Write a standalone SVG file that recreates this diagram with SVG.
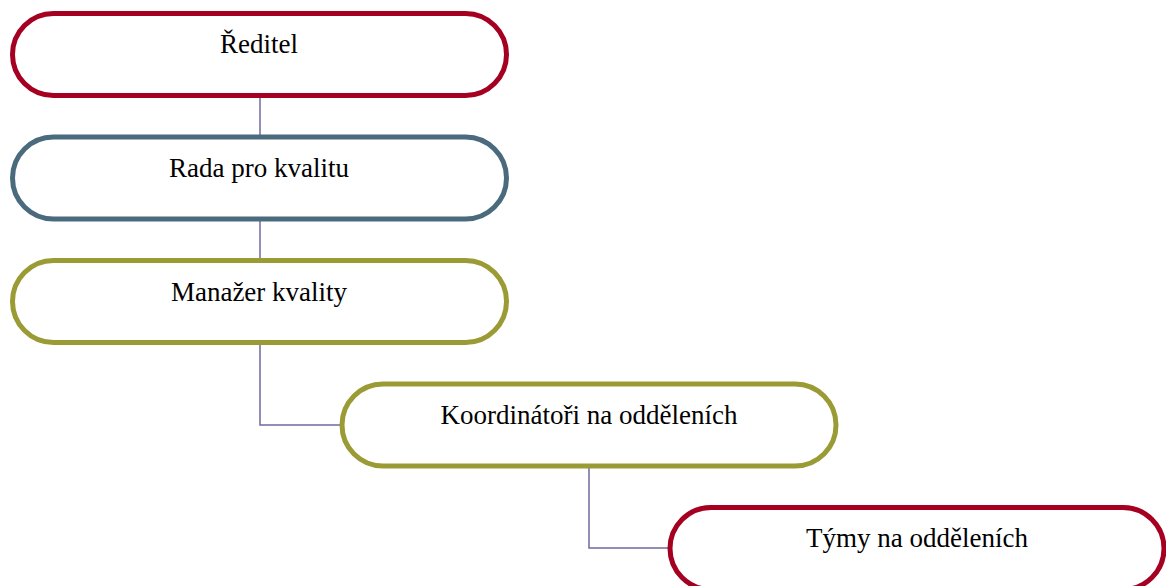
<svg xmlns="http://www.w3.org/2000/svg" width="1166" height="586" viewBox="0 0 1166 586">
<style>
.n{fill:#fff;stroke-width:5}
.red{stroke:#A50021}
.blue{stroke:#4A6A7E}
.olive{stroke:#9B9B35}
.t{font-family:"Liberation Serif","Times New Roman",serif;font-size:27px;fill:#000;text-anchor:middle}
.c{fill:none;stroke:#6F6A9E;stroke-width:1.5}
</style>
<rect width="1166" height="586" fill="#fff"/>
<g id="connectors">
<path class="c" d="M260 98V136"/>
<path class="c" d="M260 221V259"/>
<path class="c" d="M260 344V425H340"/>
<path class="c" d="M589 467V548H669"/>
</g>
<g id="n1"><rect class="n red" x="12.5" y="13.5" width="494" height="82" rx="41"/><text class="t" x="259" y="53">Ředitel</text></g>
<g id="n2"><rect class="n blue" x="12.5" y="137" width="494" height="82" rx="41"/><text class="t" x="259" y="177">Rada pro kvalitu</text></g>
<g id="n3"><rect class="n olive" x="12.5" y="260.5" width="494" height="82" rx="41"/><text class="t" x="259" y="301">Manažer kvality</text></g>
<g id="n4"><rect class="n olive" x="342" y="384" width="494" height="82" rx="41"/><text class="t" x="589" y="424">Koordinátoři na odděleních</text></g>
<g id="n5"><rect class="n red" x="670" y="507.5" width="494" height="82" rx="41"/><text class="t" x="917" y="547">Týmy na odděleních</text></g>
</svg>
